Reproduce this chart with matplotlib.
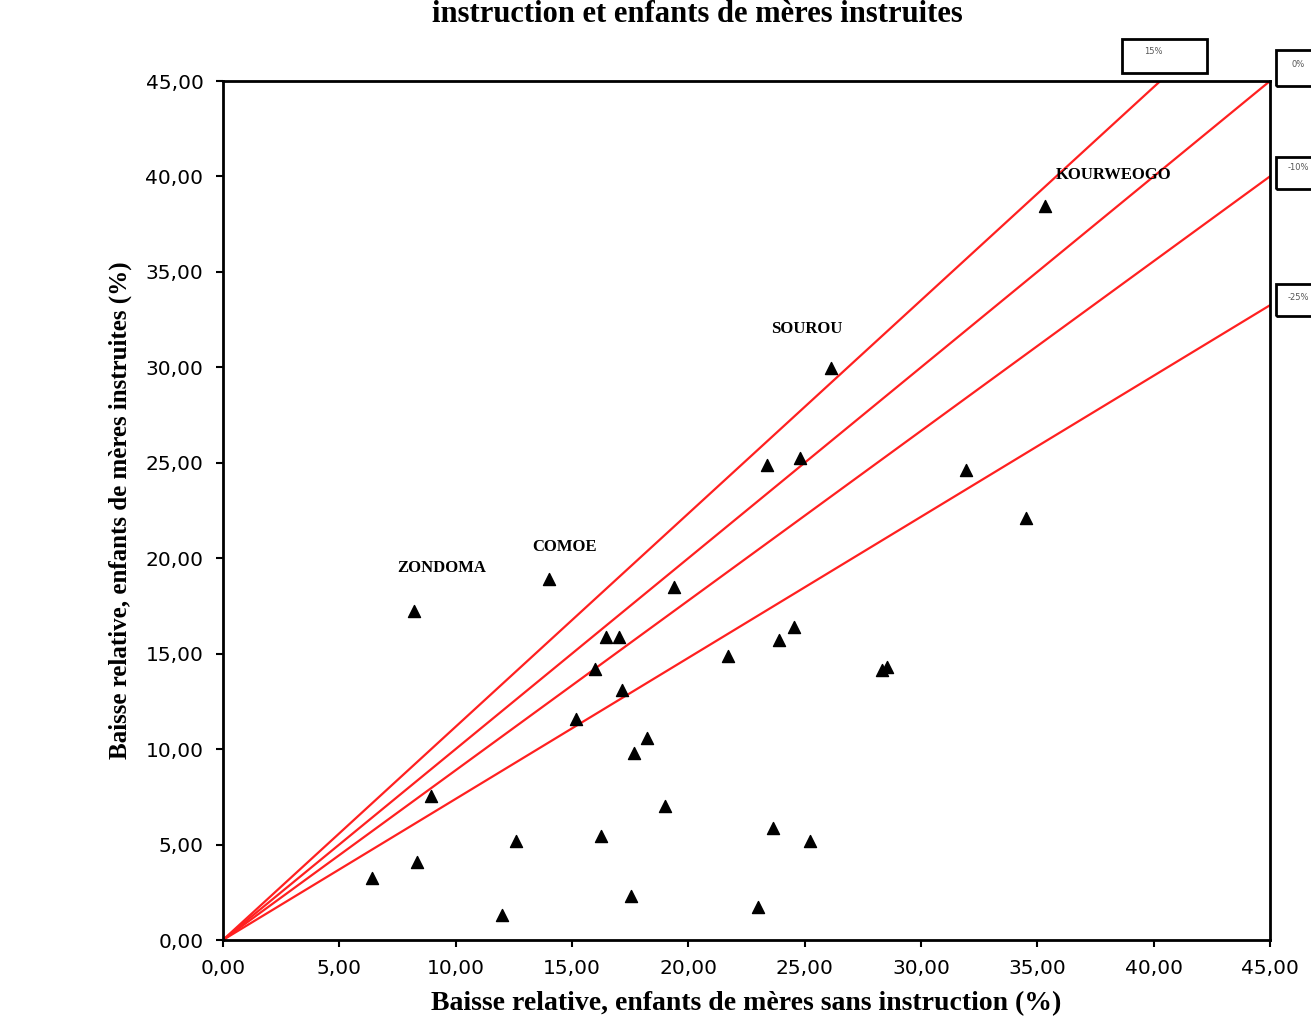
import matplotlib.pyplot as plt
import numpy as np
from matplotlib.patches import Rectangle
from matplotlib.ticker import FuncFormatter

# baisse relative (%) par province
sans_instr = [6.40, 8.21, 8.34, 8.94, 11.99, 12.59, 14.01, 15.17, 15.99, 16.24,
              16.46, 17.02, 17.15, 17.53, 17.66, 18.22, 18.99, 19.38, 21.70, 22.99,
              23.38, 23.64, 23.89, 24.54, 24.80, 25.23, 26.13, 28.32, 28.53, 31.93,
              34.51, 35.32]
instruites = [3.25, 17.23, 4.09, 7.54, 1.31, 5.19, 18.91, 11.58, 14.20, 5.45,
              15.87, 15.87, 13.10, 2.30, 9.80, 10.58, 7.02, 18.49, 14.88, 1.73,
              24.88, 5.87, 15.72, 16.40, 25.25, 5.19, 29.96, 14.14, 14.30, 24.62,
              22.11, 38.45]

noms = ["ZONDOMA", "COMOE", "SOUROU", "KOURWEOGO"]
noms_x = [9.4, 14.7, 25.1, 38.3]
noms_y = [19.5, 20.6, 32.0, 40.1]

pentes = [1.117, 1.0, 0.889, 0.739]
pentes_lab = ["15%", "0%", "-10%", "-25%"]

fig = plt.figure(figsize=(13.11, 10.18), dpi=100)
ax = fig.add_axes([0.170, 0.0766, 0.7987, 0.8438])

xs = np.array([0, 45])
for p in pentes:
    ax.plot(xs, p * xs, color="#ff2020", lw=1.6, zorder=2)

ax.scatter(sans_instr, instruites, marker="^", s=75, color="black", zorder=3)

for n, x, y in zip(noms, noms_x, noms_y):
    ax.text(x, y, n, ha="center", va="center", fontsize=12, fontweight="bold",
            family="Liberation Serif")

ax.set_xlim(0, 45)
ax.set_ylim(0, 45)
ax.set_xticks(np.arange(0, 46, 5))
ax.set_yticks(np.arange(0, 46, 5))
fmt = FuncFormatter(lambda v, pos: f"{v:.2f}".replace(".", ","))
ax.xaxis.set_major_formatter(fmt)
ax.yaxis.set_major_formatter(fmt)
ax.tick_params(labelsize=14.5, width=1.5, length=5, pad=9)
for s in ax.spines.values():
    s.set_linewidth(2)

ax.set_xlabel("Baisse relative, enfants de mères sans instruction (%)",
              fontsize=20, fontweight="bold", family="Liberation Serif", labelpad=9)
ax.set_ylabel("Baisse relative, enfants de mères instruites (%)",
              fontsize=18, fontweight="bold", family="Liberation Serif", labelpad=10)

fig.text(0.532, 1.0, "instruction et enfants de mères instruites", ha="center",
         va="top", fontsize=22, fontweight="bold", family="Liberation Serif")

# petites boites des lignes
boxes = [(0.856, 0.9283, 0.0648, 0.0334, 0.880, 0.949),
         (0.9733, 0.9155, 0.07, 0.0354, 0.990, 0.937),
         (0.9733, 0.8143, 0.07, 0.0314, 0.990, 0.835),
         (0.9733, 0.6896, 0.07, 0.0314, 0.990, 0.708)]
for (x0, y0, w, h, tx, ty), lab in zip(boxes, pentes_lab):
    fig.patches.append(Rectangle((x0, y0), w, h, transform=fig.transFigure,
                                 fill=False, edgecolor="black", lw=2))
    fig.text(tx, ty, lab, fontsize=6, color="#555555", ha="center", va="center")

fig.savefig("out.png", dpi=100)
